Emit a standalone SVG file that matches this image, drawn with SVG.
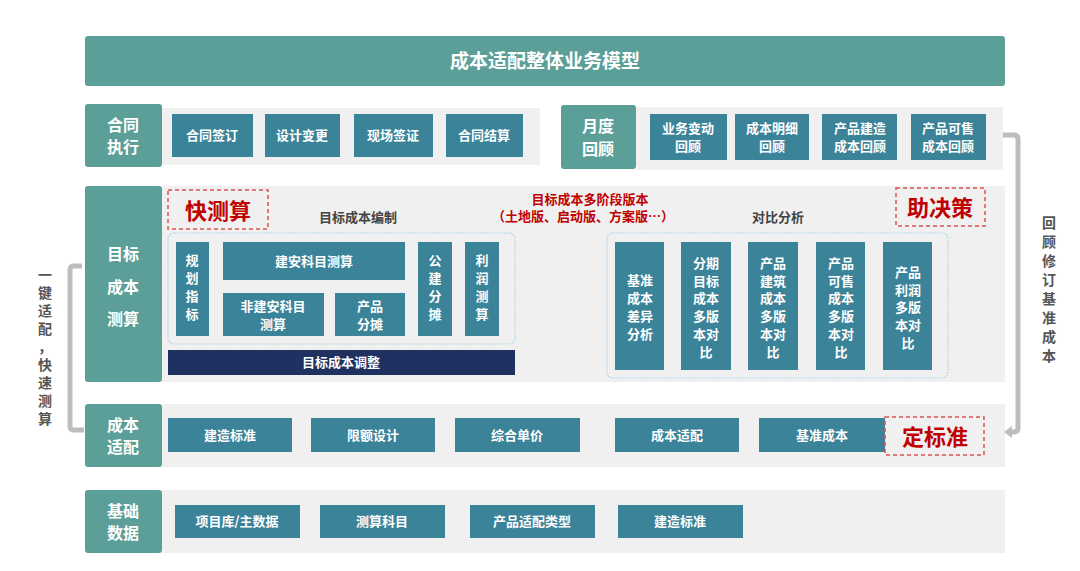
<svg xmlns="http://www.w3.org/2000/svg" width="1080" height="571" viewBox="0 0 1080 571">
<style>
text{font-family:"Noto Sans CJK SC","Liberation Sans",sans-serif;font-weight:bold;text-anchor:middle}
.lab{fill:#5b9f98}
.panel{fill:#f0f0f0}
.box{fill:#3a8399}
.w{fill:#fff;font-size:13px}
.lw{fill:#fff;font-size:16px}
.red{fill:#c00000}
.dash{fill:none;stroke:#d9534f;stroke-width:1.5;stroke-dasharray:4 3}
.cont{fill:none;stroke:#b8d8ea;stroke-width:1.2;stroke-dasharray:2 1}
.conn{fill:none;stroke:#bdbdbd;stroke-width:5;stroke-linejoin:round}
.side{fill:#555;font-size:14px}
</style>
<rect width="1080" height="571" fill="#fff"/>
<g id="title"><rect x="85" y="36" width="920" height="50" rx="3" class="lab"/><text x="545" y="68" fill="#fff" font-size="19">成本适配整体业务模型</text></g>

<g id="row1">
<rect x="162" y="108" width="378" height="57" class="panel"/>
<rect x="85" y="104" width="77" height="63" rx="3" class="lab"/><text class="lw" x="123" y="131">合同</text><text class="lw" x="123" y="153">执行</text>
<rect x="172" y="114" width="81" height="43" class="box"/><text class="w" x="212" y="140">合同签订</text>
<rect x="265" y="114" width="75" height="43" class="box"/><text class="w" x="302" y="140">设计变更</text>
<rect x="354" y="114" width="79" height="43" class="box"/><text class="w" x="393" y="140">现场签证</text>
<rect x="446" y="114" width="77" height="43" class="box"/><text class="w" x="484" y="140">合同结算</text>
</g>
<g id="row1r">
<rect x="636" y="107" width="367" height="63" class="panel"/>
<rect x="561" y="105" width="75" height="64" rx="3" class="lab"/><text class="lw" x="598" y="132">月度</text><text class="lw" x="598" y="155">回顾</text>
<rect x="650" y="114" width="77" height="46" class="box"/><text class="w" x="688" y="133">业务变动</text><text class="w" x="688" y="151">回顾</text>
<rect x="735" y="114" width="74" height="46" class="box"/><text class="w" x="772" y="133">成本明细</text><text class="w" x="772" y="151">回顾</text>
<rect x="822" y="114" width="75" height="46" class="box"/><text class="w" x="860" y="133">产品建造</text><text class="w" x="860" y="151">成本回顾</text>
<rect x="911" y="114" width="75" height="46" class="box"/><text class="w" x="948" y="133">产品可售</text><text class="w" x="948" y="151">成本回顾</text>
</g>

<g id="row2">
<rect x="162" y="186" width="843" height="196" class="panel"/>
<rect x="85" y="186" width="77" height="196" rx="3" class="lab"/>
<text class="lw" x="123" y="260">目标</text><text class="lw" x="123" y="293">成本</text><text class="lw" x="123" y="325">测算</text>
<rect x="168" y="190" width="100" height="39" class="dash"/><text class="red" x="218" y="219" font-size="22">快测算</text>
<text x="358" y="222" fill="#444" font-size="13">目标成本编制</text>
<text class="red" x="590" y="204" font-size="13">目标成本多阶段版本</text>
<text class="red" x="583" y="221" font-size="13">（土地版、启动版、方案版…）</text>
<text x="778" y="222" fill="#444" font-size="13">对比分析</text>
<rect x="896" y="188" width="89" height="38" class="dash"/><text class="red" x="940" y="216" font-size="22">助决策</text>
<rect x="168" y="233" width="347" height="111" rx="6" class="cont"/>
<rect x="176" y="242" width="33" height="94" class="box"/>
<text class="w"><tspan x="192" y="265">规</tspan><tspan x="192" y="283">划</tspan><tspan x="192" y="301">指</tspan><tspan x="192" y="319">标</tspan></text>
<rect x="223" y="242" width="182" height="38" class="box"/><text class="w" x="314" y="266">建安科目测算</text>
<rect x="223" y="293" width="101" height="43" class="box"/><text class="w" x="273" y="311">非建安科目</text><text class="w" x="273" y="329">测算</text>
<rect x="335" y="293" width="70" height="43" class="box"/><text class="w" x="370" y="311">产品</text><text class="w" x="370" y="329">分摊</text>
<rect x="418" y="242" width="34" height="94" class="box"/>
<text class="w"><tspan x="435" y="265">公</tspan><tspan x="435" y="283">建</tspan><tspan x="435" y="301">分</tspan><tspan x="435" y="319">摊</tspan></text>
<rect x="465" y="242" width="34" height="94" class="box"/>
<text class="w"><tspan x="482" y="265">利</tspan><tspan x="482" y="283">润</tspan><tspan x="482" y="301">测</tspan><tspan x="482" y="319">算</tspan></text>
<rect x="168" y="350" width="347" height="25" fill="#1e3161"/><text class="w" x="341" y="367">目标成本调整</text>
<rect x="607" y="233" width="341" height="145" rx="6" class="cont"/>
<rect x="615" y="242" width="49" height="128" class="box"/>
<text class="w"><tspan x="640" y="285">基准</tspan><tspan x="640" y="303">成本</tspan><tspan x="640" y="321">差异</tspan><tspan x="640" y="339">分析</tspan></text>
<rect x="681" y="242" width="50" height="128" class="box"/>
<text class="w"><tspan x="706" y="268">分期</tspan><tspan x="706" y="286">目标</tspan><tspan x="706" y="303">成本</tspan><tspan x="706" y="321">多版</tspan><tspan x="706" y="339">本对</tspan><tspan x="706" y="357">比</tspan></text>
<rect x="748" y="242" width="50" height="128" class="box"/>
<text class="w"><tspan x="773" y="268">产品</tspan><tspan x="773" y="286">建筑</tspan><tspan x="773" y="303">成本</tspan><tspan x="773" y="321">多版</tspan><tspan x="773" y="339">本对</tspan><tspan x="773" y="357">比</tspan></text>
<rect x="816" y="242" width="49" height="128" class="box"/>
<text class="w"><tspan x="841" y="268">产品</tspan><tspan x="841" y="286">可售</tspan><tspan x="841" y="303">成本</tspan><tspan x="841" y="321">多版</tspan><tspan x="841" y="339">本对</tspan><tspan x="841" y="357">比</tspan></text>
<rect x="883" y="242" width="49" height="128" class="box"/>
<text class="w"><tspan x="908" y="277">产品</tspan><tspan x="908" y="295">利润</tspan><tspan x="908" y="312">多版</tspan><tspan x="908" y="330">本对</tspan><tspan x="908" y="348">比</tspan></text>
</g>

<g id="row3">
<rect x="162" y="404" width="843" height="63" class="panel"/>
<rect x="85" y="404" width="77" height="63" rx="3" class="lab"/><text class="lw" x="123" y="431">成本</text><text class="lw" x="123" y="453">适配</text>
<rect x="168" y="418" width="124" height="34" class="box"/><text class="w" x="230" y="440">建造标准</text>
<rect x="311" y="418" width="124" height="34" class="box"/><text class="w" x="373" y="440">限额设计</text>
<rect x="455" y="418" width="125" height="34" class="box"/><text class="w" x="517" y="440">综合单价</text>
<rect x="615" y="418" width="124" height="34" class="box"/><text class="w" x="677" y="440">成本适配</text>
<rect x="759" y="418" width="126" height="34" class="box"/><text class="w" x="822" y="440">基准成本</text>
<rect x="885" y="417" width="99" height="38" class="dash"/><text class="red" x="935" y="445" font-size="22">定标准</text>
</g>

<g id="row4">
<rect x="162" y="490" width="843" height="63" class="panel"/>
<rect x="85" y="490" width="77" height="63" rx="3" class="lab"/><text class="lw" x="123" y="517">基础</text><text class="lw" x="123" y="539">数据</text>
<rect x="175" y="505" width="125" height="33" class="box"/><text class="w" x="237" y="526">项目库/主数据</text>
<rect x="320" y="505" width="125" height="33" class="box"/><text class="w" x="382" y="526">测算科目</text>
<rect x="470" y="505" width="125" height="33" class="box"/><text class="w" x="532" y="526">产品适配类型</text>
<rect x="618" y="505" width="125" height="33" class="box"/><text class="w" x="680" y="526">建造标准</text>
</g>

<g id="connectors">
<path class="conn" d="M82 266 H74 Q70 266 70 270 V426 Q70 430 74 430 H84"/>
<path class="conn" d="M1003 135 H1014 Q1018 135 1018 139 V428 Q1018 432 1014 432 H1010"/>
<path d="M1004 432 L1012 426 L1012 438 Z" fill="#bdbdbd"/>
<text class="side"><tspan x="45" y="280">一</tspan><tspan x="45" y="298">键</tspan><tspan x="45" y="316">适</tspan><tspan x="45" y="334">配</tspan><tspan x="45" y="352">，</tspan><tspan x="45" y="370">快</tspan><tspan x="45" y="388">速</tspan><tspan x="45" y="406">测</tspan><tspan x="45" y="424">算</tspan></text>
<text class="side"><tspan x="1049" y="228">回</tspan><tspan x="1049" y="247">顾</tspan><tspan x="1049" y="266">修</tspan><tspan x="1049" y="285">订</tspan><tspan x="1049" y="304">基</tspan><tspan x="1049" y="323">准</tspan><tspan x="1049" y="342">成</tspan><tspan x="1049" y="361">本</tspan></text>
</g>
</svg>
